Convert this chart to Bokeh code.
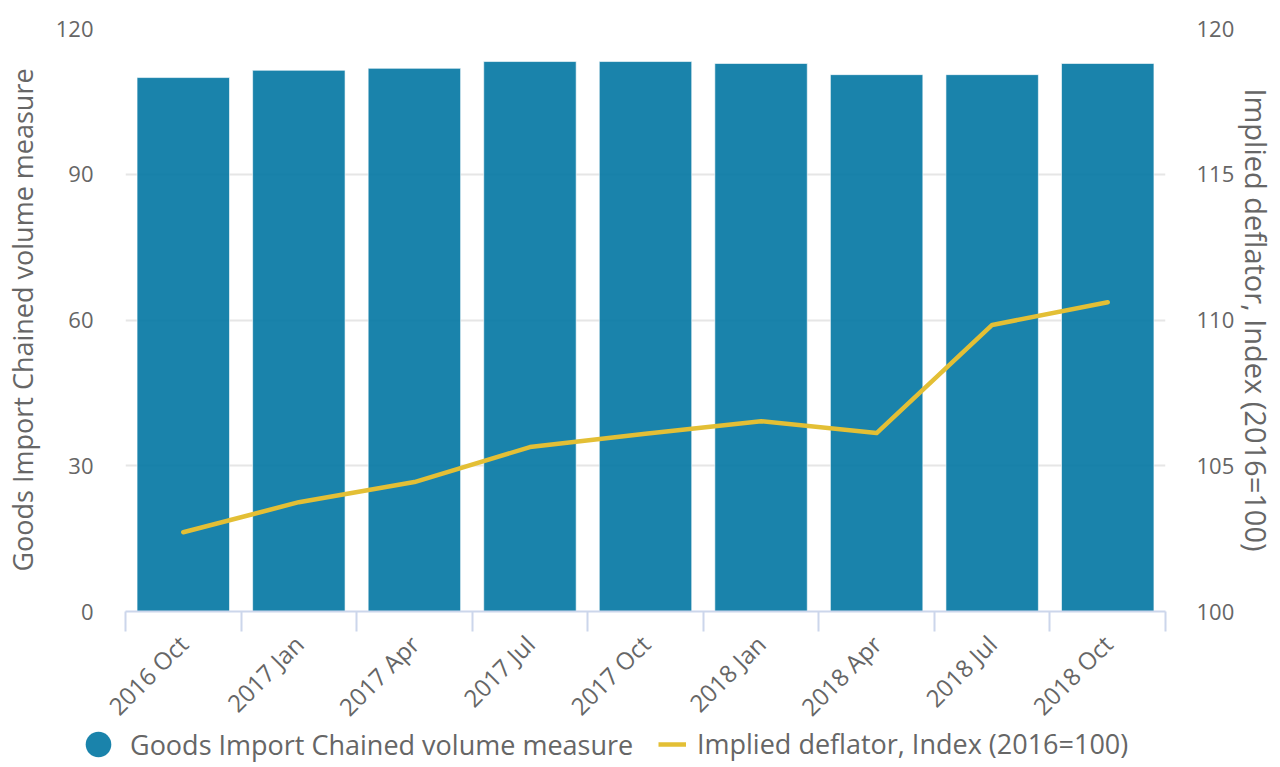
from bokeh.plotting import figure
from bokeh.models import (Range1d, LinearAxis, FixedTicker, Legend, LegendItem,
                          ColumnDataSource)
from bokeh.embed import file_html
from bokeh.resources import INLINE
import math

categories = ["2016 Oct", "2017 Jan", "2017 Apr", "2017 Jul", "2017 Oct",
              "2018 Jan", "2018 Apr", "2018 Jul", "2018 Oct"]
volume = [109.9, 111.4, 111.8, 113.2, 113.2, 112.8, 110.5, 110.5, 112.8]
deflator = [102.72, 103.75, 104.44, 105.64, 106.10, 106.53, 106.12, 109.83, 110.61]
left_ticks = [0, 30, 60, 90, 120]
right_ticks = [100, 105, 110, 115, 120]
series_names = ["Goods Import Chained volume measure", "Implied deflator, Index (2016=100)"]

BAR = "#0176a2"
LINE = "#e3bf35"
TXT = "#666666"
FONT = "Open Sans"

idx = list(range(len(categories)))
src = ColumnDataSource(dict(x=idx, vol=volume, dfl=deflator))

p = figure(frame_width=1040, frame_height=583, output_backend="svg", toolbar_location=None,
           x_range=Range1d(-0.5, len(categories) - 0.5),
           y_range=Range1d(left_ticks[0], left_ticks[-1]),
           min_border_left=125, min_border_right=111, min_border_top=28,
           min_border_bottom=116)
p.outline_line_color = None
p.extra_y_ranges = {"defl": Range1d(right_ticks[0], right_ticks[-1])}

p.vbar(x="x", top="vol", width=0.8, source=src, fill_color=BAR, fill_alpha=0.9,
       line_color="white", line_width=1, line_alpha=0.6)
p.line(x="x", y="dfl", source=src, y_range_name="defl", line_color=LINE,
       line_width=4.5, line_join="round", line_cap="round")

# x axis
xa = p.xaxis[0]
xa.ticker = FixedTicker(ticks=idx, minor_ticks=[i - 0.5 for i in idx] + [idx[-1] + 0.5])
xa.major_label_overrides = {i: c for i, c in zip(idx, categories)}
xa.major_tick_line_color = None
xa.major_tick_in = 0
xa.major_tick_out = 20
xa.minor_tick_line_color = "#ccd6eb"
xa.minor_tick_line_width = 2
xa.minor_tick_in = 0
xa.minor_tick_out = 20
xa.axis_line_color = "#ccd6eb"
xa.axis_line_width = 2
xa.major_label_orientation = math.pi / 4
xa.major_label_text_font = FONT
xa.major_label_text_font_size = "24px"
xa.major_label_text_color = TXT
xa.major_label_standoff = 8

# left axis
ya = p.yaxis[0]
ya.ticker = FixedTicker(ticks=left_ticks)
ya.axis_line_color = None
ya.major_tick_line_color = None
ya.major_tick_in = 0
ya.major_tick_out = 0
ya.minor_tick_line_color = None
ya.major_label_text_font = FONT
ya.major_label_text_font_size = "22px"
ya.major_label_text_color = TXT
ya.major_label_standoff = 32
ya.axis_label = series_names[0]
ya.axis_label_text_font = FONT
ya.axis_label_text_font_size = "27px"
ya.axis_label_text_font_style = "normal"
ya.axis_label_text_color = TXT
ya.axis_label_standoff = 12

ra = LinearAxis(y_range_name="defl", ticker=FixedTicker(ticks=right_ticks))
ra.axis_line_color = None
ra.major_tick_line_color = None
ra.major_tick_in = 0
ra.major_tick_out = 0
ra.minor_tick_line_color = None
ra.major_label_text_font = FONT
ra.major_label_text_font_size = "22px"
ra.major_label_text_color = TXT
ra.major_label_standoff = 31
ra.axis_label = series_names[1]
ra.axis_label_text_font = FONT
ra.axis_label_text_font_size = "29px"
ra.axis_label_text_font_style = "normal"
ra.axis_label_text_color = TXT
ra.axis_label_standoff = 0
p.add_layout(ra, "right")

p.xgrid.grid_line_color = None
p.ygrid.grid_line_color = "#e6e6e6"
p.ygrid.grid_line_width = 2
p.ygrid.ticker = FixedTicker(ticks=left_ticks)

# legend strip below the chart (its own root, pulled up over the unused bottom
# of the chart's label panel; the series sit outside its view, only legend glyphs show)
lg = figure(width=1276, height=40, output_backend="svg", toolbar_location=None,
            x_range=Range1d(-0.5, len(categories) - 0.5), y_range=Range1d(-2, -1),
            x_axis_location=None, y_axis_location=None,
            min_border_left=0, min_border_right=0, min_border_top=0, min_border_bottom=0,
            margin=(-14, 0, 0, 0))
lg.outline_line_color = None
lg.grid.grid_line_color = None
lg.background_fill_alpha = 0
lg.border_fill_alpha = 0
r_bar = lg.scatter(x="x", y="vol", source=src, marker="circle", fill_color=BAR,
                   fill_alpha=0.9, line_color=None)
r_line = lg.line(x="x", y="dfl", source=src, line_color=LINE, line_width=4.5)

def mk_legend(item, loc, gw, gh, standoff):
    leg = Legend(items=[item], location=loc, glyph_width=gw, glyph_height=gh,
                 label_standoff=standoff, padding=0, margin=0, spacing=0,
                 border_line_color=None, background_fill_alpha=0,
                 label_text_font=FONT, label_text_font_size="27px",
                 label_text_color=TXT)
    lg.add_layout(leg, "center")

mk_legend(LegendItem(label=series_names[0], renderers=[r_bar]), (66, -13), 64, 64, 0)
mk_legend(LegendItem(label=series_names[1], renderers=[r_line]), (658, 1), 28, 36, 11)

open("out.html", "w").write(file_html([p, lg], INLINE))
